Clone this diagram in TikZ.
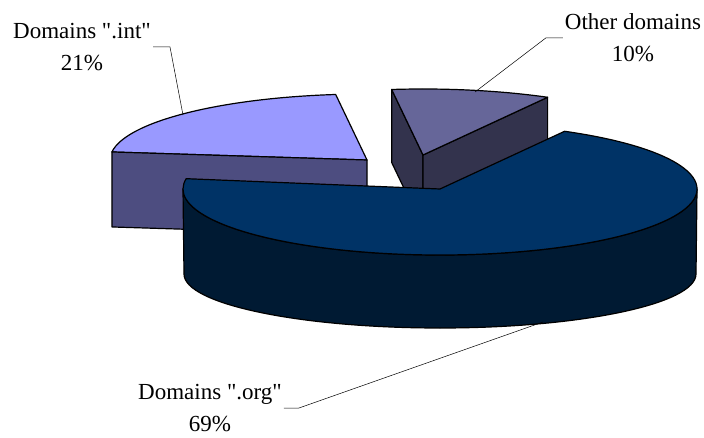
\documentclass[tikz,border=0pt]{standalone}
\usepackage{fontspec}
\setmainfont{Liberation Serif}[Ligatures=TeXOff]
\usetikzlibrary{calc}

\definecolor{inttop}{RGB}{153,153,255}
\definecolor{intside}{RGB}{77,77,128}
\definecolor{othtop}{RGB}{102,102,153}
\definecolor{othside}{RGB}{51,51,77}
\definecolor{orgtop}{RGB}{0,51,102}
\definecolor{orgside}{RGB}{0,26,51}

\begin{document}
\begin{tikzpicture}[x=1pt,y=1pt]

      \tikzstyle{facet}=[draw=black,line width=1.2pt,line join=round]
      \tikzstyle{leader}=[draw=black,line width=0.5pt]
      \tikzstyle{every node}=[align=center,inner sep=2pt,
                            font={\fontsize{23}{32}\selectfont}]
      \tikzset{rim/.style={x radius=257pt,y radius=66pt}}

      \useasboundingbox (0,0) rectangle (704,437);

      \coordinate (int) at (367,277);
      \coordinate (oth) at (423,282);
      \coordinate (org) at (440,248);
      \coordinate (orgbase) at (440,163);

      % domains .int
      \draw[facet,fill=inttop] (int) -- ++(97:257pt and 66pt)
          arc[start angle=97,end angle=173,rim] -- cycle;
      \draw[facet,fill=intside] (int) -- ($(int)+(173:257pt and 66pt)$)
          -- ++(0,-75) -- ($(int)+(0,-75)$) -- cycle;

      % other domains
      \draw[facet,fill=othside] (oth) -- ($(oth)+(97:257pt and 66pt)$)
          -- ++(0,-73) -- ($(oth)+(0,-73)$) -- cycle;
      \draw[facet,fill=othside] (oth) -- ($(oth)+(61:257pt and 66pt)$)
          -- ++(0,-73) -- ($(oth)+(0,-73)$) -- cycle;
      \draw[facet,fill=othtop] (oth) -- ++(61:257pt and 66pt)
          arc[start angle=61,end angle=97,rim] -- cycle;

      % domains .org
      \draw[facet,fill=orgside] ($(org)+(180:257pt and 66pt)$)
          arc[start angle=180,end angle=360,rim]
          -- ($(orgbase)+(256,0)$)
          arc[start angle=0,end angle=-180,x radius=256pt,y radius=54pt] -- cycle;
      \draw[facet,fill=orgtop] (org) -- ++(61:257pt and 66pt)
          arc[start angle=61,end angle=-189,rim] -- cycle;

      \node (intlabel) at (82,390) {Domains ".int"\\21\%};
      \node (othlabel) at (633,399) {Other domains\\10\%};
      \node (orglabel) at (210,29) {Domains ".org"\\69\%};

      \coordinate (intrim) at (183,322);
      \coordinate (othrim) at (475,345);
      \coordinate (orgrim) at (543,115);

      \draw[leader] (intlabel.east) -- ++(17,0) -- (intrim);
      \draw[leader] (othlabel.west) -- ++(-17,0) -- (othrim);
      \draw[leader] (orglabel.east) -- ++(15,0) -- (orgrim);

    \end{tikzpicture}
\end{document}
